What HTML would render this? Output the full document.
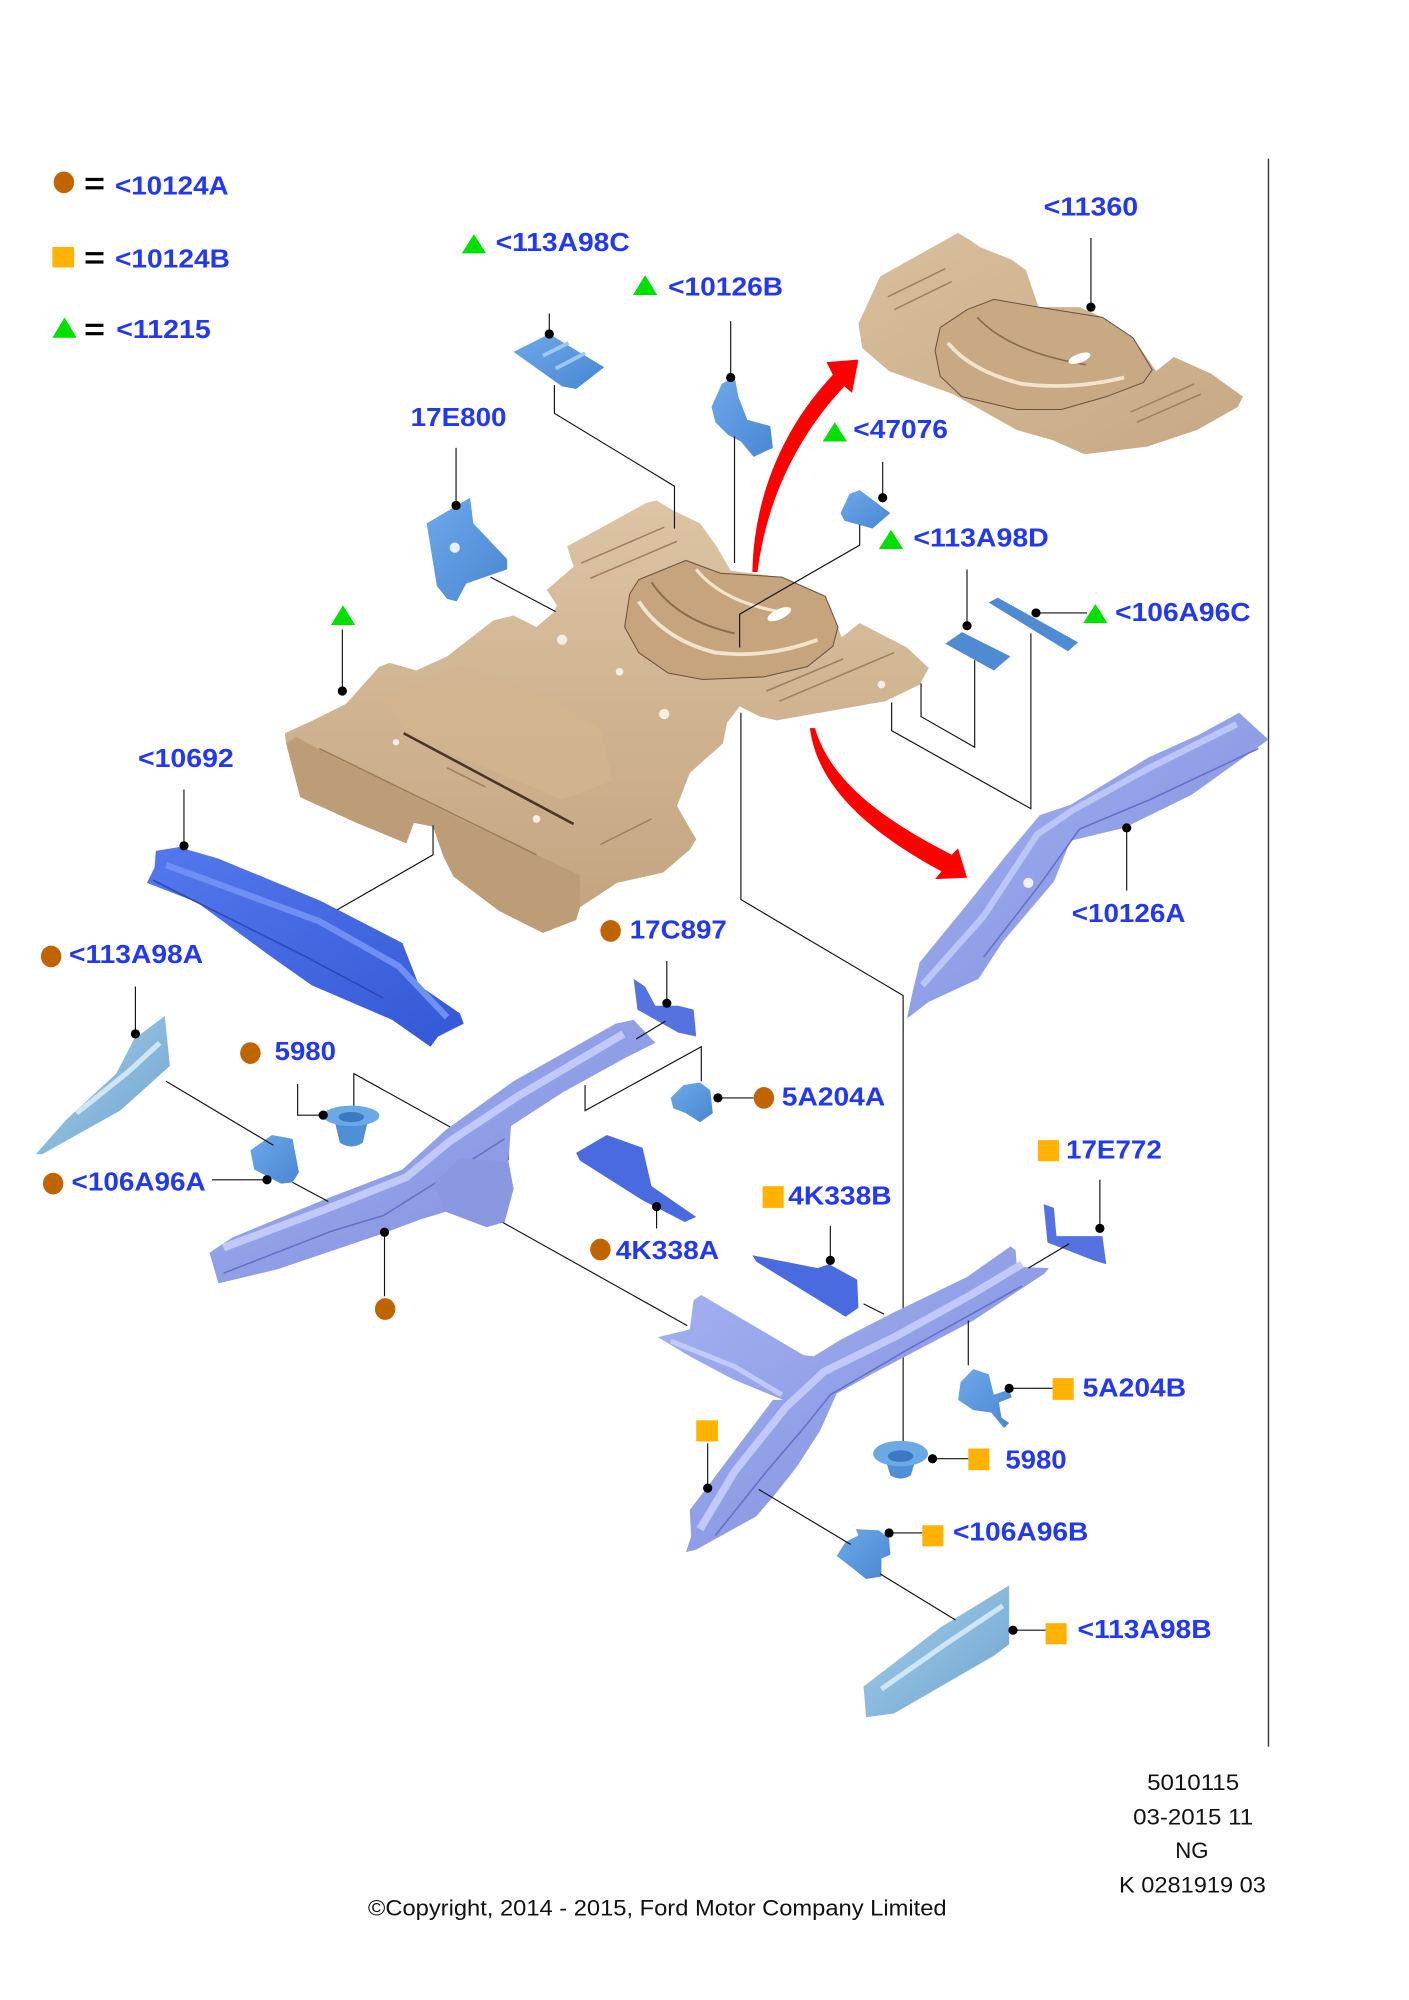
<!DOCTYPE html>
<html><head><meta charset="utf-8">
<style>
html,body{margin:0;padding:0;background:#fff;}
svg{display:block;}
.l{font-family:"Liberation Sans",Arial,sans-serif;font-weight:bold;font-size:20px;fill:#2238f2;}
.f{font-family:"Liberation Sans",Arial,sans-serif;font-size:17px;fill:#111;}
</style></head><body>
<svg width="1409" height="2000" viewBox="0 0 1103 1563" preserveAspectRatio="none" xmlns="http://www.w3.org/2000/svg">
<defs>
<linearGradient id="tan" x1="0" y1="0" x2="0" y2="1"><stop offset="0" stop-color="#dcc4a4"/><stop offset="1" stop-color="#c3a37e"/></linearGradient>
<linearGradient id="tan2" x1="0" y1="0" x2="1" y2="1"><stop offset="0" stop-color="#d9bf9c"/><stop offset="1" stop-color="#c7a884"/></linearGradient>
<linearGradient id="rail" x1="0" y1="0" x2="1" y2="1"><stop offset="0" stop-color="#a6b3f2"/><stop offset="1" stop-color="#7c8bdb"/></linearGradient>
<linearGradient id="dblue" x1="0" y1="0" x2="1" y2="1"><stop offset="0" stop-color="#5478ec"/><stop offset="1" stop-color="#3457d6"/></linearGradient>
<linearGradient id="sblue" x1="0" y1="0" x2="1" y2="1"><stop offset="0" stop-color="#6ea9ea"/><stop offset="1" stop-color="#4a86d2"/></linearGradient>
<linearGradient id="lpanel" x1="0" y1="0" x2="1" y2="1"><stop offset="0" stop-color="#a6d0ea"/><stop offset="1" stop-color="#6ea3cf"/></linearGradient>
</defs>
<rect width="1103" height="1563" fill="#fff"/>

<!-- legend -->
<ellipse cx="50" cy="142.5" rx="8" ry="8.5" fill="#c06400"/>
<rect x="67" y="139" width="14" height="2.5" fill="#000"/><rect x="67" y="145.5" width="14" height="2.5" fill="#000"/>
<text class="l" x="90" y="152" textLength="89" lengthAdjust="spacingAndGlyphs">&lt;10124A</text>
<rect x="41" y="193" width="17" height="16" fill="#ffb300"/>
<rect x="67" y="197" width="14" height="2.5" fill="#000"/><rect x="67" y="203.5" width="14" height="2.5" fill="#000"/>
<text class="l" x="90" y="209" textLength="90" lengthAdjust="spacingAndGlyphs">&lt;10124B</text>
<polygon points="41,264 50.5,248 60,264" fill="#00e000"/>
<rect x="67" y="253" width="14" height="2.5" fill="#000"/><rect x="67" y="259.5" width="14" height="2.5" fill="#000"/>
<text class="l" x="91" y="264" textLength="74" lengthAdjust="spacingAndGlyphs">&lt;11215</text>

<!-- right border line -->
<line x1="993" y1="124" x2="993" y2="1365" stroke="#333" stroke-width="1.1"/>

<!-- lines behind parts -->
<g stroke="#111" stroke-width="0.9" fill="none">
<polyline points="277,877 277,839 398,906 398,872"/>
<polyline points="580,557 580,703 707,778 707,1136"/>
<line x1="393" y1="955" x2="538" y2="1036"/>
</g>

<!-- big floor -->
<polygon points="223,573 245,563 271,550 297,521 305,518 326,524 350,513 386,485 402,481 420,490 433,479 436,473 428,461 449,443 444,427 506,393 514,391 527,399 548,409 561,427 572,446 612,451 649,475 659,498 673,487 710,506 727,522 720,535 693,548 608,563 595,560 579,552 569,565 566,581 540,604 530,630 545,656 540,664 519,682 483,690 454,709 451,719 425,729 391,712 355,685 347,669 339,646 324,643 318,659 279,643 235,623 224,581" fill="url(#tan)"/>
<polygon points="224,581 232,576 262,592 300,610 360,640 420,668 454,684 454,709 451,719 425,729 391,712 355,685 347,669 339,646 324,643 318,659 279,643 235,623" fill="#bd9d78"/>
<polygon points="300,545 360,520 420,540 470,570 480,610 440,625 380,600 320,575" fill="#d2b48f" opacity="0.8"/>
<line x1="316" y1="573" x2="449" y2="644" stroke="#4a3424" stroke-width="2"/>
<line x1="250" y1="585" x2="420" y2="668" stroke="#9a7c5a" stroke-width="1.2"/>
<path d="M493,464 L500,453 L537,438 L564,448 L612,451 L646,466 L656,490 L652,505 L632,521 L598,529 L550,531 L523,526 L500,510 L489,490 Z" fill="#c5a47e" stroke="#6b5040" stroke-width="0.8"/>
<path d="M500,470 Q520,500 560,510 Q600,515 640,500" stroke="#f2e4cc" stroke-width="3" fill="none"/>
<path d="M510,455 Q530,485 575,495" stroke="#8a6c4c" stroke-width="1.5" fill="none"/>
<path d="M545,445 Q565,470 610,478" stroke="#f2e4cc" stroke-width="2.5" fill="none"/>
<ellipse cx="610" cy="480" rx="10" ry="4" fill="#fff" transform="rotate(-25 610 480)"/>
<g stroke="#a0805e" stroke-width="1.2" fill="none">
<path d="M455,440 L520,412"/><path d="M462,452 L530,423"/>
<path d="M600,540 L660,515"/><path d="M610,548 L700,510"/>
<path d="M350,600 L380,615"/><path d="M470,660 L510,640"/>
</g>
<g fill="#f6eee2">
<circle cx="440" cy="500" r="4"/><circle cx="485" cy="525" r="3"/><circle cx="520" cy="558" r="4"/><circle cx="310" cy="580" r="2.5"/><circle cx="690" cy="535" r="3"/><circle cx="420" cy="640" r="3"/>
</g>

<!-- 11360 -->
<polygon points="672,253 689,216 750,182 760,188 767,193 792,203 803,211 813,240 845,240 863,248 887,264 905,290 919,279 948,292 973,310 969,318 937,336 898,349 849,355 824,344 796,336 746,308 696,290 675,272" fill="url(#tan2)"/>
<path d="M736,256 L757,242 L778,234 L813,240 L863,248 L887,264 L902,289 L895,299 L866,310 L831,320 L796,320 L753,310 L736,294 L732,274 Z" fill="#c9a983" stroke="#6b5040" stroke-width="0.8"/>
<path d="M742,268 Q760,290 800,300 Q840,305 880,295" stroke="#f2e4cc" stroke-width="3" fill="none"/>
<path d="M765,248 Q790,275 850,285" stroke="#8a6c4c" stroke-width="1.3" fill="none"/>
<ellipse cx="845" cy="280" rx="9" ry="3.5" fill="#fff" transform="rotate(-20 845 280)"/>
<g stroke="#a0805e" stroke-width="1.2" fill="none">
<path d="M695,232 L740,210"/><path d="M700,242 L745,220"/><path d="M885,322 L935,300"/><path d="M890,330 L940,308"/>
</g>

<!-- 17E800 -->
<polygon points="334,409 368,389 370.5,409 397,437 397,445 365,456 357.5,470 350,468 342,458" fill="url(#sblue)"/>
<circle cx="356" cy="428" r="4" fill="#e8f2ff"/>
<!-- 113A98C -->
<polygon points="402,275 430,261 473,287 451,304 440,302" fill="url(#sblue)"/>
<path d="M425,278 L445,268 M435,288 L458,276" stroke="#9cc8f2" stroke-width="3"/>
<!-- 10126B -->
<polygon points="557,318 565,300 575,294 578,310 585,328 603,333 605,350 590,357 580,345 570,340 560,330" fill="url(#sblue)"/>
<!-- 47076 -->
<polygon points="658,401 665,386 673,383 697,401 683,413 661,407" fill="url(#sblue)"/>
<!-- 113A98D / 106A96C -->
<polygon points="740,503 753,494 791,513 778,524" fill="#4f8bd2"/>
<polygon points="774,471 781,467 844,502 836,509" fill="#4f8bd2"/>

<!-- 10126A rail -->
<polygon points="970,557 993,578 933,621 880,647 838,657 825,689 785,736 766,765 727,783 710,796 714,777 720,752 761,702 788,668 814,637 838,629 899,592 939,574" fill="url(#rail)"/>
<path d="M968,566 L900,600 L840,633 L812,652 L770,716 L722,770" stroke="#bcc6f6" stroke-width="5" fill="none"/>
<path d="M985,585 L900,625 L845,648 L815,690 L770,748" stroke="#6270c8" stroke-width="1.2" fill="none"/>
<circle cx="805" cy="690" r="4" fill="#eef1ff"/>

<!-- 10692 -->
<polygon points="122,665 140,662 171,671 251,704 315,737 328,770 360,792 363,800 343,810 337,818 307,797 244,770 210,746 154,705 115,690 121,678" fill="url(#dblue)"/>
<path d="M130,676 L250,720 L312,755 L350,795" stroke="#6f8ff2" stroke-width="5" fill="none"/>
<path d="M120,688 L240,748 L300,780" stroke="#2a46b8" stroke-width="1.2" fill="none"/>

<!-- 113A98A -->
<polygon points="28,902 52,875 91,839 105,812 129,794 133,833 94,868 33,902" fill="url(#lpanel)"/>
<path d="M60,870 L100,838 L125,815" stroke="#cfe6f4" stroke-width="4" fill="none"/>
<!-- 106A96A -->
<polygon points="196,899 213,887 229,890 234,916 229,924 220,925 199,914" fill="url(#sblue)"/>
<!-- 5980 left -->
<path d="M262,876 L266,893 Q275,899 284,893 L288,876 Z" fill="#4f8fd6"/>
<ellipse cx="275" cy="872" rx="22" ry="8" fill="#6aa8e6"/>
<ellipse cx="275" cy="873" rx="10" ry="4" fill="#3f78c2"/>

<!-- bottom-left rail -->
<polygon points="164,979 182,967 255,937 315,914 349,883 402,845 482,800 496,797 513,815 489,827 440,854 400,880 398,908 402,929 395,955 381,959 349,947 329,953 297,965 217,992 171,1003" fill="url(#rail)"/>
<path d="M175,975 L255,945 L318,920 L352,892 L405,857 L488,808" stroke="#c0c9f7" stroke-width="6" fill="none"/>
<path d="M175,995 L260,962 L300,950 L340,925 L395,890" stroke="#6270c8" stroke-width="1.2" fill="none"/>
<polygon points="340,925 360,905 398,908 402,929 395,955 381,959 349,947" fill="#8a98e0"/>
<!-- 17C897 -->
<polygon points="496,765 505,771 513,786 531,786 543,789 545,810 531,807 499,789" fill="#5472e0"/>
<!-- 5A204A -->
<polygon points="525,858 535,848 548,846 556,852 558,870 548,877 537,870 527,866" fill="url(#sblue)"/>
<!-- 4K338A -->
<polygon points="451,901 475,887 503,897 510,927 545,951 536,955 503,938 454,907" fill="#4a6be0"/>

<!-- Y rail -->
<polygon points="537,1213 541,1201 540,1180 550,1167 577,1131 605,1094 613,1094 574,1078 540,1060 515,1045 540,1039 543,1016 549,1012 629,1059 637,1060 658,1047 699,1026 757,998 791,974 795,977 796,990 821,991 818,995 762,1032 707,1061 684,1073 655,1089 642,1118 624,1146 605,1170 592,1185 545,1211" fill="url(#rail)"/>
<path d="M548,1195 L575,1150 L615,1100 L645,1072 L700,1045 L760,1012 L800,988" stroke="#c0c9f7" stroke-width="6" fill="none"/>
<path d="M525,1048 L575,1068 L612,1090" stroke="#c0c9f7" stroke-width="4" fill="none"/>
<path d="M560,1200 L600,1150 L630,1115 L650,1090 L710,1055 L800,1005" stroke="#6270c8" stroke-width="1.2" fill="none"/>
<!-- 4K338B -->
<polygon points="589,981 640,991 649,988 671,1000 672,1022 662,1029 592,986" fill="#4a6be0"/>
<!-- 17E772 -->
<polygon points="817,941 825,944 827,966 863,966 866,988 856,985 820,971" fill="#5472e0"/>
<!-- 5A204B -->
<polygon points="752,1080 762,1070 774,1074 778,1090 790,1086 792,1092 782,1096 784,1108 790,1112 786,1116 776,1104 762,1102 750,1094" fill="url(#sblue)"/>
<!-- 5980 right -->
<path d="M693,1140 L697,1153 Q705,1158 713,1153 L717,1140 Z" fill="#4f8fd6"/>
<ellipse cx="705" cy="1136" rx="21.5" ry="10" fill="#6aa8e6"/>
<ellipse cx="705" cy="1138" rx="10" ry="4.5" fill="#3f78c2"/>
<!-- 106A96B -->
<polygon points="655,1216 662,1205 672,1200 670,1195 688,1196 696,1202 697,1215 690,1218 690,1232 678,1234 668,1226" fill="url(#sblue)"/>
<!-- 113A98B -->
<polygon points="676,1318 736,1272 790,1239 790,1285 778,1294 700,1339 678,1342" fill="url(#lpanel)"/>
<path d="M690,1320 L740,1285 L785,1255" stroke="#cfe6f4" stroke-width="4" fill="none"/>

<!-- red arrows -->
<path d="M589,447 C590,390 612,335 652,293 L647,283 L672,281 L667,307 L661,302 C625,340 600,390 593,447 Z" fill="#ff0000"/>
<path d="M634,569 C640,615 680,650 737,681 L732,687 L757,686 L750,663 L745,668 C690,640 650,610 638,569 Z" fill="#ff0000"/>

<!-- leader lines on top -->
<g stroke="#111" stroke-width="0.9" fill="none">
<line x1="430" y1="245" x2="430" y2="261"/>
<polyline points="434,301 434,323 528,380 528,413"/>
<line x1="572" y1="251" x2="572" y2="295"/>
<line x1="575" y1="341" x2="575" y2="440"/>
<line x1="854" y1="186" x2="854" y2="240"/>
<line x1="357" y1="350" x2="357" y2="395"/>
<line x1="384" y1="451" x2="435" y2="478"/>
<line x1="691" y1="361" x2="691" y2="389"/>
<polyline points="673,410 673,426 579,480 579,506"/>
<line x1="757" y1="445" x2="757" y2="489"/>
<polyline points="763,516 763,584 721,560 721,534"/>
<line x1="811" y1="479" x2="851" y2="479"/>
<polyline points="807,495 807,632 698,571 698,549"/>
<line x1="268" y1="492" x2="268" y2="540"/>
<line x1="144" y1="617" x2="144" y2="661"/>
<polyline points="339,645 339,668 264,711"/>
<line x1="882" y1="647" x2="882" y2="696"/>
<line x1="106" y1="771" x2="106" y2="808"/>
<line x1="130" y1="845" x2="214" y2="895"/>
<line x1="522" y1="751" x2="522" y2="784"/>
<line x1="521" y1="798" x2="498" y2="812"/>
<polyline points="458,848 458,868 549,818 549,845"/>
<polyline points="233,847 233,871.5 253,871.5"/>
<line x1="562" y1="858" x2="590" y2="858"/>
<line x1="166" y1="922" x2="209" y2="922"/>
<line x1="229" y1="924" x2="257" y2="939"/>
<line x1="301" y1="963" x2="301" y2="1013"/>
<line x1="514" y1="943" x2="514" y2="960"/>
<line x1="650" y1="958" x2="650" y2="985"/>
<line x1="676" y1="1019" x2="692" y2="1027"/>
<line x1="861" y1="922" x2="861" y2="960"/>
<line x1="837" y1="972" x2="805" y2="991"/>
<line x1="758" y1="1032" x2="758" y2="1067"/>
<line x1="790" y1="1085" x2="824" y2="1085"/>
<line x1="730" y1="1140" x2="758" y2="1140"/>
<line x1="554" y1="1128" x2="554" y2="1163"/>
<line x1="696" y1="1198" x2="722" y2="1198"/>
<line x1="594" y1="1164" x2="666" y2="1207"/>
<line x1="689" y1="1230" x2="748" y2="1266"/>
<line x1="793" y1="1274" x2="819" y2="1274"/>
</g>

<!-- dots -->
<g fill="#000">
<circle cx="430" cy="261" r="3.6"/><circle cx="572" cy="295" r="3.6"/><circle cx="854" cy="240" r="3.6"/>
<circle cx="357" cy="395" r="3.6"/><circle cx="691" cy="389" r="3.6"/><circle cx="757" cy="489" r="3.6"/>
<circle cx="811" cy="479" r="3.6"/><circle cx="268" cy="540" r="3.6"/><circle cx="144" cy="661" r="3.6"/>
<circle cx="882" cy="647" r="3.6"/><circle cx="106" cy="808" r="3.6"/><circle cx="522" cy="784" r="3.6"/>
<circle cx="253" cy="871.5" r="3.6"/><circle cx="562" cy="858" r="3.6"/><circle cx="209" cy="922" r="3.6"/>
<circle cx="301" cy="963" r="3.6"/><circle cx="514" cy="943" r="3.6"/><circle cx="650" cy="985" r="3.6"/>
<circle cx="861" cy="960" r="3.6"/><circle cx="790" cy="1085" r="3.6"/><circle cx="730" cy="1140" r="3.6"/>
<circle cx="554" cy="1163" r="3.6"/><circle cx="696" cy="1198" r="3.6"/><circle cx="793" cy="1274" r="3.6"/>
</g>

<!-- markers -->
<g fill="#00e000">
<polygon points="361.5,198 371,183 380.5,198"/>
<polygon points="495.5,230.5 505,215 514.5,230.5"/>
<polygon points="644,345 653.5,330 663,345"/>
<polygon points="688,429 697.5,414 707,429"/>
<polygon points="848,487 857.5,472 867,487"/>
<polygon points="259,488.5 268.5,473 278,488.5"/>
</g>
<g fill="#c06400">
<ellipse cx="40" cy="747.5" rx="8" ry="8.5"/><ellipse cx="478" cy="727.5" rx="8" ry="8.5"/>
<ellipse cx="196" cy="823" rx="8" ry="8.5"/><ellipse cx="598" cy="858" rx="8" ry="8.5"/>
<ellipse cx="41.6" cy="925" rx="8" ry="8.5"/><ellipse cx="470" cy="976.5" rx="8" ry="8.5"/>
<ellipse cx="301.5" cy="1023" rx="8" ry="8.5"/>
</g>
<g fill="#ffb300">
<rect x="812.5" y="891" width="16.5" height="16.5"/><rect x="597" y="927" width="16.5" height="17"/>
<rect x="824" y="1077" width="16.5" height="17"/><rect x="545" y="1110" width="17" height="16.5"/>
<rect x="758" y="1132" width="16.5" height="17"/><rect x="722" y="1192" width="16.5" height="16.5"/>
<rect x="818.5" y="1268.5" width="16.5" height="16.5"/>
</g>

<!-- labels -->
<text class="l" x="388" y="196" textLength="105" lengthAdjust="spacingAndGlyphs">&lt;113A98C</text>
<text class="l" x="523" y="231" textLength="90" lengthAdjust="spacingAndGlyphs">&lt;10126B</text>
<text class="l" x="817" y="168.5" textLength="74" lengthAdjust="spacingAndGlyphs">&lt;11360</text>
<text class="l" x="321.5" y="333" textLength="75" lengthAdjust="spacingAndGlyphs">17E800</text>
<text class="l" x="668" y="342.5" textLength="74" lengthAdjust="spacingAndGlyphs">&lt;47076</text>
<text class="l" x="715" y="427" textLength="106" lengthAdjust="spacingAndGlyphs">&lt;113A98D</text>
<text class="l" x="873" y="485.5" textLength="106" lengthAdjust="spacingAndGlyphs">&lt;106A96C</text>
<text class="l" x="108" y="599.5" textLength="75" lengthAdjust="spacingAndGlyphs">&lt;10692</text>
<text class="l" x="839" y="720.5" textLength="89" lengthAdjust="spacingAndGlyphs">&lt;10126A</text>
<text class="l" x="54" y="752.5" textLength="105" lengthAdjust="spacingAndGlyphs">&lt;113A98A</text>
<text class="l" x="493" y="733.5" textLength="76" lengthAdjust="spacingAndGlyphs">17C897</text>
<text class="l" x="215" y="828.5" textLength="48" lengthAdjust="spacingAndGlyphs">5980</text>
<text class="l" x="612" y="864" textLength="81" lengthAdjust="spacingAndGlyphs">5A204A</text>
<text class="l" x="56" y="930.5" textLength="105" lengthAdjust="spacingAndGlyphs">&lt;106A96A</text>
<text class="l" x="834.5" y="905.5" textLength="75" lengthAdjust="spacingAndGlyphs">17E772</text>
<text class="l" x="617" y="941.5" textLength="81" lengthAdjust="spacingAndGlyphs">4K338B</text>
<text class="l" x="482" y="984" textLength="81" lengthAdjust="spacingAndGlyphs">4K338A</text>
<text class="l" x="847.5" y="1091.5" textLength="81" lengthAdjust="spacingAndGlyphs">5A204B</text>
<text class="l" x="787" y="1147.5" textLength="48" lengthAdjust="spacingAndGlyphs">5980</text>
<text class="l" x="746" y="1204" textLength="106" lengthAdjust="spacingAndGlyphs">&lt;106A96B</text>
<text class="l" x="843.5" y="1280" textLength="105" lengthAdjust="spacingAndGlyphs">&lt;113A98B</text>

<!-- footer -->
<text class="f" x="898" y="1399" textLength="72" lengthAdjust="spacingAndGlyphs">5010115</text>
<text class="f" x="887" y="1426" textLength="94" lengthAdjust="spacingAndGlyphs">03-2015 11</text>
<text class="f" x="920" y="1452" textLength="26" lengthAdjust="spacingAndGlyphs">NG</text>
<text class="f" x="876" y="1479" textLength="115" lengthAdjust="spacingAndGlyphs">K 0281919 03</text>
<text class="f" x="288" y="1497" textLength="453" lengthAdjust="spacingAndGlyphs">©Copyright, 2014 - 2015, Ford Motor Company Limited</text>
</svg>
</body></html>
